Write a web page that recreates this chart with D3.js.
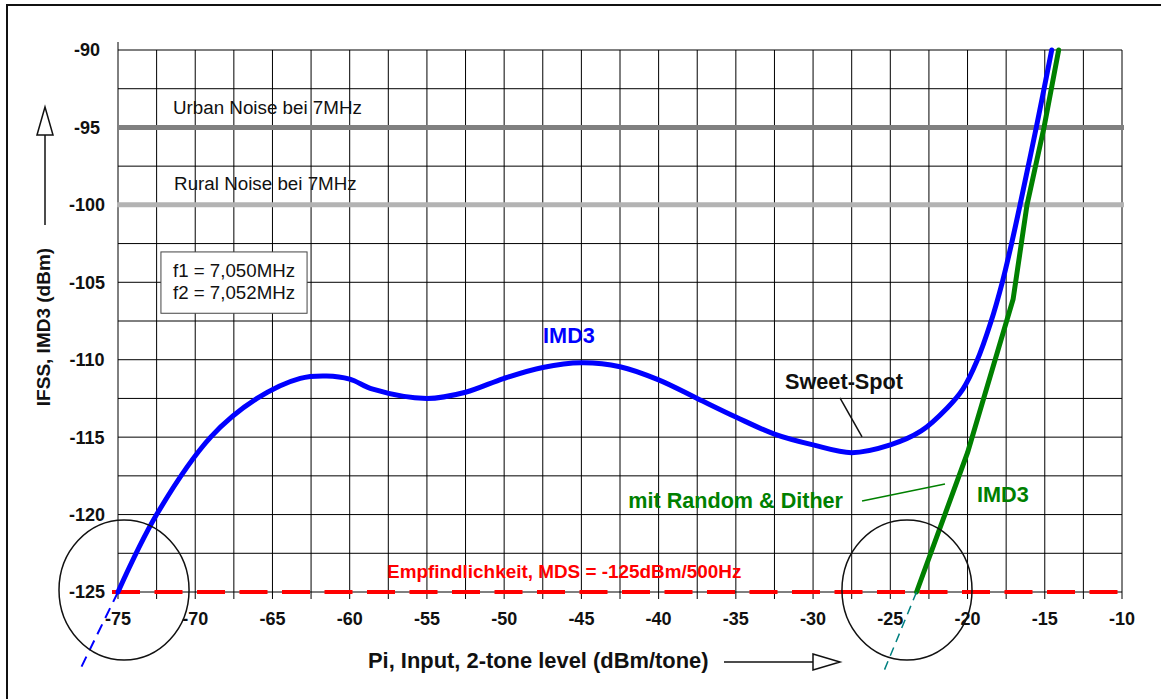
<!DOCTYPE html>
<html>
<head>
<meta charset="utf-8">
<script src="https://d3js.org/d3.v7.min.js"></script>
<style>
    body {
        margin: 0;
        background-color: white;
    }

    svg {
        display: block;
        font-family: "Liberation Sans", Arial, sans-serif;
    }
</style>
</head>
<body>
<svg></svg>
<script>
    // IMD3 without dither (blue)
    const imdInput = [-75, -72.5, -69, -66, -63.2, -61.5, -60, -58.5, -55, -52.5, -50, -47.5, -45, -42.5, -40,
        -37.5, -35, -32.5, -30, -27.5, -25, -23, -21.3, -20.3, -19.4, -18.5, -17.75, -17.15, -16.6, -15.55, -14.55];
    const imdLevel = [-125, -120, -115, -112.5, -111.2, -111.05, -111.25, -111.9, -112.5, -112.1, -111.2, -110.5, -110.2, -110.45, -111.3,
        -112.5, -113.7, -114.8, -115.5, -116, -115.5, -114.6, -113.1, -111.9, -110.1, -107.6, -105, -102.5, -100, -95, -90];

    // IMD3 with random & dither (green)
    const ditherInput = [-23.3, -20, -17.05, -16.15, -15.05, -14.1];
    const ditherLevel = [-125, -116, -106.1, -100, -95, -90];

    // extrapolations down to the MDS line
    const imdExtInput = [-75, -77.5];
    const imdExtLevel = [-125, -130.1];
    const ditherExtInput = [-23.3, -25.45];
    const ditherExtLevel = [-125, -130.2];

    const noiseLevels = [-95, -100];
    const noiseNames = ["Urban Noise bei 7MHz", "Rural Noise bei 7MHz"];
    const mdsLevel = -125;

    const xTickValues = [-75, -70, -65, -60, -55, -50, -45, -40, -35, -30, -25, -20, -15, -10];
    const yTickValues = [-90, -95, -100, -105, -110, -115, -120, -125];
    const legendLines = ["f1 = 7,050MHz", "f2 = 7,052MHz"];

    function createVis() {
        let width = 1161;
        let height = 699;
        let svg = d3.select("svg")
            .attr("width", width)
            .attr("height", height);

        let xScale = d3.scaleLinear()
            .domain([-75, -10])
            .range([118, 1122]);
        let yScale = d3.scaleLinear()
            .domain([-125, -90])
            .range([592, 50]);

        // outer frame (runs off the right and bottom edge)
        svg.append("rect")
            .attr("x", 7).attr("y", 5)
            .attr("width", 1200).attr("height", 760)
            .attr("fill", "white")
            .attr("stroke", "#111")
            .attr("stroke-width", 2);

        // grid
        let gridX = d3.range(-75, -10 + 0.01, 2.5);
        let gridY = d3.range(-125, -90 + 0.01, 2.5);
        svg.selectAll(".vgrid")
            .data(gridX)
            .join("line")
            .attr("class", "vgrid")
            .attr("x1", d => xScale(d)).attr("x2", d => xScale(d))
            .attr("y1", d => d === -75 ? yScale(-90) - 8 : yScale(-90))
            .attr("y2", yScale(-125) + 7)
            .attr("stroke", "#000")
            .attr("stroke-width", 1);
        svg.selectAll(".hgrid")
            .data(gridY)
            .join("line")
            .attr("class", "hgrid")
            .attr("x1", xScale(-75)).attr("x2", xScale(-10))
            .attr("y1", d => yScale(d)).attr("y2", d => yScale(d))
            .attr("stroke", "#000")
            .attr("stroke-width", 1);

        // noise levels
        let noiseColors = ["#808080", "#b3b3b3"];
        svg.selectAll(".noise")
            .data(noiseLevels)
            .join("line")
            .attr("class", "noise")
            .attr("x1", xScale(-75) - 1).attr("x2", xScale(-10) + 2)
            .attr("y1", d => yScale(d)).attr("y2", d => yScale(d))
            .attr("stroke", (d, i) => noiseColors[i])
            .attr("stroke-width", 5);
        svg.selectAll(".noiseLabel")
            .data(noiseLevels)
            .join("text")
            .attr("class", "noiseLabel")
            .attr("x", (d, i) => xScale(i === 0 ? -71.44 : -71.37))
            .attr("y", (d, i) => yScale(d + (i === 0 ? 0.87 : 0.96)))
            .attr("font-size", 18.8)
            .attr("fill", "#111")
            .text((d, i) => noiseNames[i]);

        // frequency box
        svg.append("rect")
            .attr("x", xScale(-72.22)).attr("y", yScale(-103.04))
            .attr("width", xScale(-62.76) - xScale(-72.22))
            .attr("height", yScale(-107) - yScale(-103.04))
            .attr("fill", "white")
            .attr("stroke", "#444")
            .attr("stroke-width", 1);
        svg.selectAll(".legendText")
            .data(legendLines)
            .join("text")
            .attr("class", "legendText")
            .attr("x", xScale(-71.44))
            .attr("y", (d, i) => yScale(i === 0 ? -104.66 : -106.08))
            .attr("font-size", 18.7)
            .attr("fill", "#111")
            .text(d => d);

        // MDS line
        svg.append("line")
            .attr("x1", xScale(-75) - 6).attr("x2", xScale(-10) - 4)
            .attr("y1", yScale(mdsLevel)).attr("y2", yScale(mdsLevel))
            .attr("stroke", "red")
            .attr("stroke-width", 4)
            .attr("stroke-dasharray", "28,14.5");
        svg.append("text")
            .attr("x", xScale(-57.58)).attr("y", yScale(-124.1))
            .attr("font-size", 18.9)
            .attr("font-weight", "bold")
            .attr("fill", "red")
            .text("Empfindlichkeit, MDS = -125dBm/500Hz");

        // curves
        let imdData = imdInput.map((v, i) => [v, imdLevel[i]]);
        let ditherData = ditherInput.map((v, i) => [v, ditherLevel[i]]);
        let smoothLine = d3.line()
            .x(d => xScale(d[0]))
            .y(d => yScale(d[1]))
            .curve(d3.curveCatmullRom.alpha(0.5));
        let straightLine = d3.line()
            .x(d => xScale(d[0]))
            .y(d => yScale(d[1]));

        svg.append("path")
            .attr("d", smoothLine(imdData))
            .attr("fill", "none")
            .attr("stroke", "#0000ff")
            .attr("stroke-width", 5)
            .attr("stroke-linecap", "round");
        svg.append("path")
            .attr("d", straightLine(ditherData))
            .attr("fill", "none")
            .attr("stroke", "#008000")
            .attr("stroke-width", 5)
            .attr("stroke-linecap", "round");

        svg.append("path")
            .attr("d", straightLine(imdExtInput.map((v, i) => [v, imdExtLevel[i]])))
            .attr("stroke", "#0000ff")
            .attr("stroke-width", 2)
            .attr("stroke-dasharray", "11,7");
        svg.append("path")
            .attr("d", straightLine(ditherExtInput.map((v, i) => [v, ditherExtLevel[i]])))
            .attr("stroke", "#008080")
            .attr("stroke-width", 1.5)
            .attr("stroke-dasharray", "9,6");

        // circles around the MDS crossings
        [[-74.61, -124.87], [-23.92, -124.87]].forEach(c => {
            svg.append("ellipse")
                .attr("cx", xScale(c[0])).attr("cy", yScale(c[1]))
                .attr("rx", xScale(-75 + 4.21) - xScale(-75))
                .attr("ry", yScale(-125) - yScale(-125 + 4.52))
                .attr("fill", "none")
                .attr("stroke", "#111")
                .attr("stroke-width", 1.5);
        });

        // annotations
        svg.append("text")
            .attr("x", xScale(-47.48)).attr("y", yScale(-108.92))
            .attr("font-size", 21.7).attr("font-weight", "bold")
            .attr("fill", "#0000ff")
            .text("IMD3");
        svg.append("text")
            .attr("x", xScale(-31.82)).attr("y", yScale(-111.89))
            .attr("font-size", 21.7).attr("font-weight", "bold")
            .attr("fill", "#111")
            .text("Sweet-Spot");
        svg.append("line")
            .attr("x1", xScale(-28.26)).attr("y1", yScale(-112.47))
            .attr("x2", xScale(-26.83)).attr("y2", yScale(-114.99))
            .attr("stroke", "#111").attr("stroke-width", 1.5);
        svg.append("text")
            .attr("x", xScale(-28.06)).attr("y", yScale(-119.58))
            .attr("text-anchor", "end")
            .attr("font-size", 21.6).attr("font-weight", "bold")
            .attr("fill", "#008000")
            .text("mit Random & Dither");
        svg.append("line")
            .attr("x1", xScale(-26.83)).attr("y1", yScale(-119.12))
            .attr("x2", xScale(-21.46)).attr("y2", yScale(-118.03))
            .attr("stroke", "#008000").attr("stroke-width", 1.5);
        svg.append("text")
            .attr("x", xScale(-19.39)).attr("y", yScale(-119.19))
            .attr("font-size", 21.7).attr("font-weight", "bold")
            .attr("fill", "#008000")
            .text("IMD3");

        // tick labels
        svg.selectAll(".xTick")
            .data(xTickValues)
            .join("text")
            .attr("class", "xTick")
            .attr("x", d => xScale(d))
            .attr("y", yScale(-125) + 33)
            .attr("text-anchor", "middle")
            .attr("font-size", 18).attr("font-weight", "bold")
            .attr("fill", "#111")
            .text(d => d);
        svg.selectAll(".yTick")
            .data(yTickValues)
            .join("text")
            .attr("class", "yTick")
            .attr("x", 87)
            .attr("y", d => yScale(d))
            .attr("dy", "0.36em")
            .attr("text-anchor", "middle")
            .attr("font-size", 18).attr("font-weight", "bold")
            .attr("fill", "#111")
            .text(d => d);

        // axis titles with arrows
        svg.append("text")
            .attr("x", 368).attr("y", 668)
            .attr("font-size", 21.9).attr("font-weight", "bold")
            .attr("fill", "#111")
            .text("Pi, Input, 2-tone level (dBm/tone)");
        svg.append("line")
            .attr("x1", 724).attr("x2", 813)
            .attr("y1", 662).attr("y2", 662)
            .attr("stroke", "#111").attr("stroke-width", 1.5);
        svg.append("path")
            .attr("d", "M813,654 L840,662 L813,670 Z")
            .attr("fill", "white")
            .attr("stroke", "#111").attr("stroke-width", 1.5);

        svg.append("text")
            .attr("transform", "translate(50,327) rotate(-90)")
            .attr("text-anchor", "middle")
            .attr("font-size", 19).attr("font-weight", "bold")
            .attr("fill", "#111")
            .text("IFSS, IMD3 (dBm)");
        svg.append("line")
            .attr("x1", 45).attr("x2", 45)
            .attr("y1", 225).attr("y2", 135)
            .attr("stroke", "#111").attr("stroke-width", 1.5);
        svg.append("path")
            .attr("d", "M37,135 L45,107 L53,135 Z")
            .attr("fill", "white")
            .attr("stroke", "#111").attr("stroke-width", 1.5);
    }
    createVis();
</script>
</body>
</html>
